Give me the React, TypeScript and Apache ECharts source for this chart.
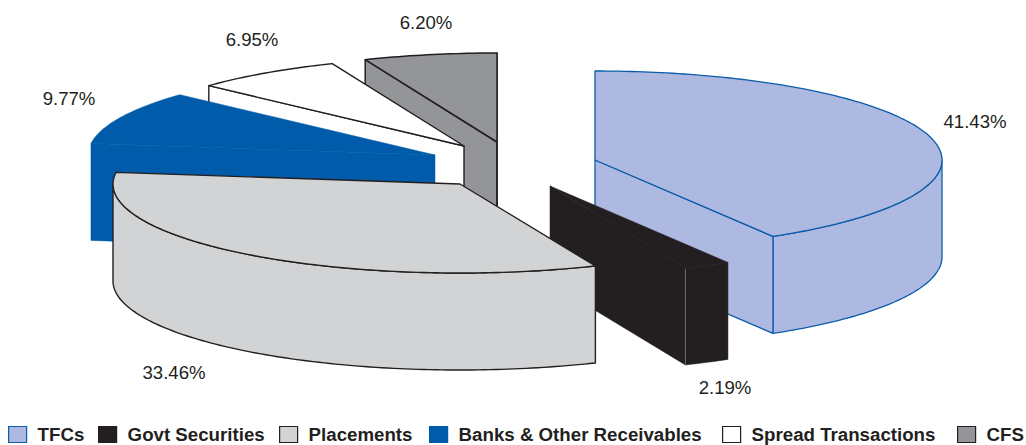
import React, { useEffect, useRef } from "react";
import * as echarts from "echarts";

// Portfolio shares, in percent, clockwise from twelve o'clock.
const categories = [
  "TFCs",
  "Govt Securities",
  "Placements",
  "Banks & Other Receivables",
  "Spread Transactions",
  "CFS",
];
const shares = [41.43, 2.19, 33.46, 9.77, 6.95, 6.2];

// Pie projection
const CENTER = [500, 165];
const RX = 347;
const RY = 89;
const DEPTH = 97;

// How far each wedge's apex is pulled out of the pie's centre.
const explode = [
  [95, -5],
  [50, 21],
  [-40, 19],
  [-65, -10],
  [-36, -19],
  [-3, -23],
];

const fills = ["#adb9e0", "#231f20", "#d1d3d4", "#005baa", "#ffffff", "#939598"];
const strokes = ["#0b5cab", "#231f20", "#231f20", "#005baa", "#231f20", "#231f20"];
const strokeWidths = [1.3, 0.5, 1.4, 0.5, 1.4, 1.5];
const seams = [null, "#6d6e71", null, null, null, null];

// Centre point of each percentage label.
const labelAnchors = [
  [975, 121],
  [725, 387],
  [174, 372],
  [69, 98],
  [252, 39],
  [426, 22],
];

// Legend swatch positions along the bottom strip.
const legendLefts = [8, 98, 279, 429, 722, 957];

// Wedges are painted far to near.
const paintOrder = [5, 4, 3, 0, 1, 2];

const total = shares.reduce((a, b) => a + b, 0);
const rad = (deg: number) => (deg * Math.PI) / 180;

function startAngle(index: number) {
  let sum = 0;
  for (let i = 0; i < index; i++) sum += shares[i];
  return (sum / total) * 360;
}

function wedge(index: number, value: number) {
  const from = startAngle(index);
  const to = from + (value / total) * 360;
  const ax = CENTER[0] + explode[index][0];
  const ay = CENTER[1] + explode[index][1];
  const rim = (deg: number) => [
    ax + RX * Math.sin(rad(deg)),
    ay - RY * Math.cos(rad(deg)),
  ];
  const drop = (p: number[]) => [p[0], p[1] + DEPTH];
  const sweep = (a: number, b: number) => {
    const pts: number[][] = [];
    const steps = Math.max(4, Math.ceil(b - a));
    for (let s = 0; s <= steps; s++) pts.push(rim(a + ((b - a) * s) / steps));
    return pts;
  };

  const style = {
    fill: fills[index],
    stroke: strokes[index],
    lineWidth: strokeWidths[index],
    lineJoin: "round",
  };
  const polygon = (points: number[][]) => ({
    type: "polygon",
    shape: { points },
    style,
  });
  const apex = [ax, ay];
  const side = (p: number[]) => polygon([apex, p, drop(p), drop(apex)]);

  const children: any[] = [];
  // Only the front half of the rim (90° to 270°) shows an outer wall.
  const wallFrom = Math.max(from, 90);
  const wallTo = Math.min(to, 270);
  if (wallTo > wallFrom) {
    const wall = sweep(wallFrom, wallTo);
    children.push(polygon([...wall, ...wall.map(drop).reverse()]));
  }
  // Whichever cut faces turn toward the viewer, then the lid.
  if (Math.sin(rad(from)) < -1e-6) children.push(side(rim(from)));
  if (Math.sin(rad(to)) > -1e-6) children.push(side(rim(to)));
  children.push(polygon([apex, ...sweep(from, to)]));

  if (seams[index]) {
    const p = rim(to);
    children.push({
      type: "line",
      shape: { x1: p[0], y1: p[1] + 1, x2: p[0], y2: p[1] + DEPTH },
      style: { stroke: seams[index], lineWidth: 1 },
    });
  }

  children.push({
    type: "text",
    style: {
      text: `${value.toFixed(2)}%`,
      x: labelAnchors[index][0],
      y: labelAnchors[index][1],
      textAlign: "center",
      textVerticalAlign: "middle",
      fontFamily: "Liberation Sans",
      fontSize: 18.6,
      fill: "#231f20",
    },
  });

  return { type: "group", children };
}

export default function App() {
  const ref = useRef<HTMLDivElement>(null);

  useEffect(() => {
    const chart = echarts.init(ref.current!, undefined, { renderer: "svg" });
    chart.setOption({
      animation: false,
      backgroundColor: "#ffffff",
      legend: categories.map((name, i) => ({
        left: legendLefts[i],
        top: 425,
        padding: 0,
        itemWidth: 18,
        itemHeight: 16,
        selectedMode: false,
        data: [
          {
            name,
            icon: "rect",
            itemStyle: {
              color: fills[i],
              borderColor: strokes[i],
              borderWidth: 1.2,
            },
          },
        ],
        textStyle: {
          fontFamily: "Liberation Sans",
          fontWeight: "bold",
          fontSize: 18.7,
          lineHeight: 16,
          height: 16,
          color: "#231f20",
          padding: [0, 0, 0, 6],
        },
      })),
      series: paintOrder.map((i) => ({
        type: "custom",
        name: categories[i],
        coordinateSystem: "none",
        silent: true,
        clip: false,
        data: [[shares[i]]],
        renderItem: (_params: any, api: any) => wedge(i, api.value(0)),
      })),
    });
    return () => chart.dispose();
  }, []);

  return (
    <div
      ref={ref}
      style={{ position: "fixed", left: 0, top: 0, width: 1026, height: 445 }}
    />
  );
}
